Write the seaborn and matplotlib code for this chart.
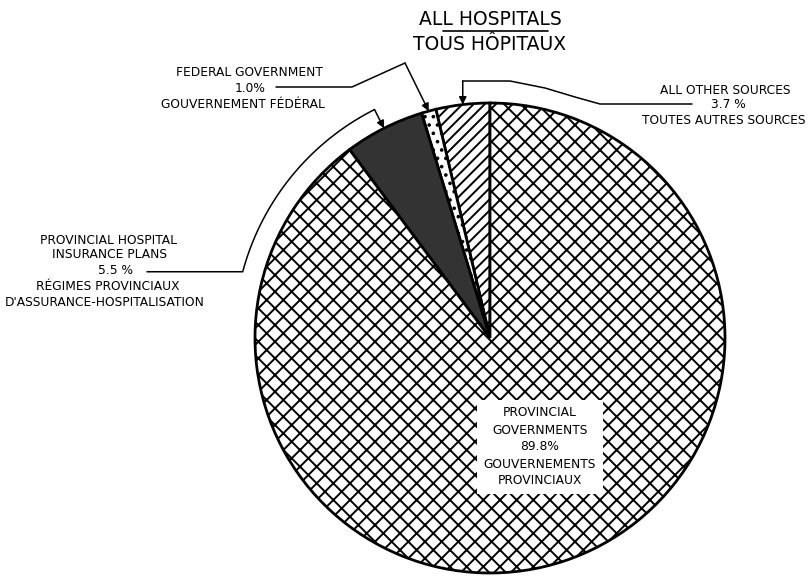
import numpy as np
import matplotlib
matplotlib.use('Agg')
import matplotlib.pyplot as plt
import seaborn as sns

# sources of hospital revenue, all hospitals
sources = ['All other sources', 'Federal government',
           'Provincial hospital insurance plans', 'Provincial governments']
shares = [3.7, 1.0, 5.5, 89.8]
hatches = ['///', '..', '', 'xx']
faces = ['white', 'white', '#333333', 'white']

sns.set_theme(style='white')
plt.rcParams['font.family'] = ['DejaVu Sans']
plt.rcParams['text.color'] = 'black'
plt.rcParams['hatch.linewidth'] = 1.4

W, H = 811, 577
fig = plt.figure(figsize=(W / 100, H / 100), dpi=100)
fig.patch.set_facecolor('white')
ax = fig.add_axes([0, 0, 1, 1])

cx, cy, r = 490, H - 338, 235
wedges, _ = ax.pie(shares, startangle=90, counterclock=True, center=(cx, cy),
                   radius=r, colors=faces,
                   wedgeprops=dict(edgecolor='black', linewidth=2))
for w, h in zip(wedges, hatches):
    w.set_hatch(h)
ax.set_xlim(0, W)
ax.set_ylim(0, H)
ax.axis('off')


def P(x, y):
    # reference pixel coords -> data coords
    return x, H - y


def polar(w, rr):
    a = np.deg2rad((w.theta1 + w.theta2) / 2)
    return cx + rr * np.cos(a), cy + rr * np.sin(a)


arrow = dict(arrowstyle='-|>', color='black', lw=1.1, mutation_scale=11,
             shrinkA=0, shrinkB=0)
fs = 8.8

# title
ax.text(*P(490, 25), 'ALL HOSPITALS', ha='center', va='baseline', fontsize=13.5)
ax.text(*P(490, 50), 'TOUS HÔPITAUX', ha='center', va='baseline', fontsize=13.5)
ax.plot(*zip(P(443, 31), P(548, 31)), color='black', lw=1.2)

# all other sources
tip = polar(wedges[0], r)
pts = [P(692, 104), P(600, 104), P(575, 97), P(545, 88), P(510, 81), (tip[0], H - 81)]
ax.plot(*zip(*pts), color='black', lw=1.1, clip_on=False)
ax.annotate('', xy=tip, xytext=(tip[0], H - 81), arrowprops=arrow)
ax.text(*P(725, 90), 'ALL OTHER SOURCES', ha='center', va='center', fontsize=fs)
ax.text(*P(728, 105), f'{shares[0]} %', ha='center', va='center', fontsize=fs)
ax.text(*P(724, 121), 'TOUTES AUTRES SOURCES', ha='center', va='center', fontsize=fs)

# federal government
tip = polar(wedges[1], r)
pts = [P(276, 87), P(352, 87), P(405, 63)]
ax.plot(*zip(*pts), color='black', lw=1.1)
ax.annotate('', xy=tip, xytext=P(405, 63), arrowprops=arrow)
ax.text(*P(249, 72), 'FEDERAL GOVERNMENT', ha='center', va='center', fontsize=fs)
ax.text(*P(250, 88), f'{shares[1]}%', ha='center', va='center', fontsize=fs)
ax.text(*P(243, 104), 'GOUVERNEMENT FÉDÉRAL', ha='center', va='center', fontsize=fs)

# provincial hospital insurance plans
ra = 256
mid = (wedges[2].theta1 + wedges[2].theta2) / 2
ang = np.deg2rad(np.linspace(mid, 165, 40))
arc_x = cx + ra * np.cos(ang)
arc_y = cy + ra * np.sin(ang)
ax.plot(np.r_[arc_x, 147], np.r_[arc_y, arc_y[-1]], color='black', lw=1.1)
ax.annotate('', xy=polar(wedges[2], r), xytext=polar(wedges[2], ra), arrowprops=arrow)
ax.text(*P(108, 240), 'PROVINCIAL HOSPITAL', ha='center', va='center', fontsize=fs)
ax.text(*P(110, 254), 'INSURANCE PLANS', ha='center', va='center', fontsize=fs)
ax.text(*P(115, 270), f'{shares[2]} %', ha='center', va='center', fontsize=fs)
ax.text(*P(108, 287), 'RÉGIMES PROVINCIAUX', ha='center', va='center', fontsize=fs)
ax.text(*P(105, 302), "D'ASSURANCE-HOSPITALISATION", ha='center', va='center', fontsize=fs)

# provincial governments
ax.text(*P(540, 447),
        f'PROVINCIAL\nGOVERNMENTS\n{shares[3]}%\nGOUVERNEMENTS\nPROVINCIAUX',
        ha='center', va='center', fontsize=fs, linespacing=1.4,
        bbox=dict(facecolor='white', edgecolor='none', pad=5))

fig.savefig('out.png', dpi=100, facecolor='white')
